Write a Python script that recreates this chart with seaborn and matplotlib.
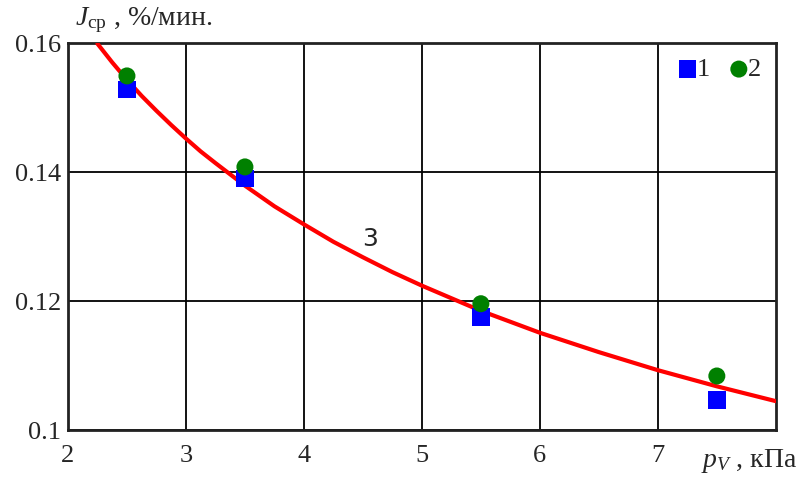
import seaborn as sns
import matplotlib.pyplot as plt
import pandas as pd

p_v = [2.5, 3.5, 5.5, 7.5]
j_series1 = [0.1528, 0.1390, 0.1175, 0.1047]
j_series2 = [0.1549, 0.1408, 0.1196, 0.1084]

# Approximating curve 3
curve_x = [2.25, 2.375, 2.5, 2.625, 2.75, 2.875, 3.0, 3.125, 3.25, 3.5, 3.75, 4.0,
           4.25, 4.5, 4.75, 5.0, 5.5, 6.0, 6.5, 7.0, 7.5, 8.0]
curve_y = [0.1599, 0.1570, 0.1543, 0.1518, 0.1495, 0.1473, 0.1452, 0.1432, 0.1414,
           0.1379, 0.1347, 0.1319, 0.1292, 0.1268, 0.1245, 0.1224, 0.1185, 0.1151,
           0.1121, 0.1093, 0.1068, 0.1045]

x_ticks = [2, 3, 4, 5, 6, 7]
y_ticks = [0.1, 0.12, 0.14, 0.16]
y_tick_labels = ["0.1", "0.12", "0.14", "0.16"]

sns.set_style("white")
plt.rcParams['font.family'] = ['Liberation Serif', 'DejaVu Serif']
plt.rcParams['mathtext.fontset'] = 'custom'
plt.rcParams['mathtext.it'] = 'Liberation Serif:italic'
plt.rcParams['mathtext.rm'] = 'Liberation Serif'

fig = plt.figure(figsize=(8.09, 4.78), dpi=100)
ax = fig.add_axes([0.084, 0.1, 0.875, 0.81])

curve = pd.DataFrame({"x": curve_x, "y": curve_y})
sns.lineplot(data=curve, x="x", y="y", color="red", linewidth=3, ax=ax, zorder=3)

df1 = pd.DataFrame({"x": p_v, "y": j_series1})
df2 = pd.DataFrame({"x": p_v, "y": j_series2})
sns.scatterplot(data=df1, x="x", y="y", marker="s", s=160, color="#0000ff",
                edgecolor="none", ax=ax, zorder=4, label="1")
sns.scatterplot(data=df2, x="x", y="y", marker="o", s=150, color="#008000",
                edgecolor="none", ax=ax, zorder=5, label="2")

ax.set_xlim(2, 8)
ax.set_ylim(0.1, 0.16)
ax.set_xticks(x_ticks)
ax.set_yticks(y_ticks)
ax.set_yticklabels(y_tick_labels)
ax.tick_params(length=0, labelsize=19)
ax.tick_params(axis="x", pad=11)
ax.tick_params(axis="y", pad=5)
ax.grid(True, color="black", linewidth=1.3)
for s in ax.spines.values():
    s.set_color("#222222")
    s.set_linewidth(2)
ax.set_xlabel("")
ax.set_ylabel("")

ax.text(4.56, 0.1296, "3", fontsize=18, ha="center", va="center",
        family=["DejaVu Sans"])
fig.text(0.093, 0.958, r"$J_{\mathrm{cp}}$ , %/мин.", fontsize=20, ha="left", va="center")
fig.text(0.867, 0.035, r"$p_{V}$ , кПа", fontsize=20, ha="left", va="center")

leg = ax.legend(loc="upper right", ncol=2, frameon=False, fontsize=19,
                handlelength=1.0, handletextpad=-0.15, columnspacing=0.6,
                borderaxespad=0.15, markerscale=1.0)

fig.savefig("out.png", dpi=100)
plt.close()
